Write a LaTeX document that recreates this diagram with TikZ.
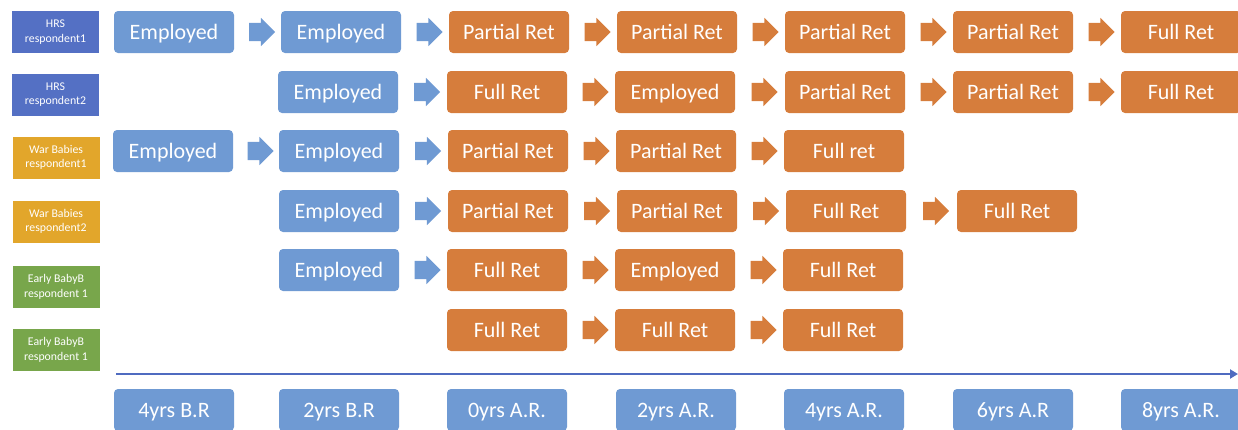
\documentclass[tikz,border=0pt]{standalone}
\usepackage{fontspec}
\setmainfont{Carlito}
\usetikzlibrary{shapes.arrows,calc,arrows.meta}
\definecolor{stepblue}{HTML}{6F9AD3}
\definecolor{steporange}{HTML}{D67D3C}
\definecolor{hrsblue}{HTML}{5470C4}
\definecolor{wargold}{HTML}{E2A62B}
\definecolor{boomgreen}{HTML}{78A64B}
\definecolor{axisblue}{HTML}{4F6BC0}

\begin{document}
\begin{tikzpicture}[x=1pt,y=-1pt,
  stage/.style={rounded corners=4pt, minimum width=120pt, minimum height=42pt,
    inner sep=0pt, text=white, text height=19pt, text depth=4pt,
    font=\fontsize{22}{24}\selectfont},
  emp/.style={stage, fill=stepblue},
  ret/.style={stage, fill=steporange},
  cohort/.style={minimum width=87pt, minimum height=42pt, inner sep=0pt,
    text=white, align=center, font=\fontsize{11.8}{14.5}\selectfont},
  flowarrow/.style={single arrow, single arrow head extend=5pt,
    minimum height=26pt, inner sep=0pt, fill=#1, draw=none},
]
\useasboundingbox (0,0) rectangle (1238,429);
\clip (0,0) rectangle (1238,429);

% cohort labels
\node[cohort, fill=hrsblue]   (c1) at (55.5,32)    {HRS\\respondent1};
\node[cohort, fill=hrsblue]   (c2) at (55.5,94.5)  {HRS\\respondent2};
\node[cohort, fill=wargold]   (c3) at (56,157.5)   {War Babies\\respondent1};
\node[cohort, fill=wargold]   (c4) at (56,221.5)   {War Babies\\respondent2};
\node[cohort, fill=boomgreen] (c5) at (56,287)     {Early BabyB\\respondent 1};
\node[cohort, fill=boomgreen] (c6) at (56,350)     {Early BabyB\\respondent 1};

% row 1
\node[emp] (n-1-1) at (174,32)  {Employed};
\node[emp] (n-1-2) at (341,32)  {Employed};
\node[ret] (n-1-3) at (509,32)  {Partial Ret};
\node[ret] (n-1-4) at (677,32)  {Partial Ret};
\node[ret] (n-1-5) at (845,32)  {Partial Ret};
\node[ret] (n-1-6) at (1013,32) {Partial Ret};
\node[ret] (n-1-7) at (1181,32) {Full Ret};
% row 2
\node[emp] (n-2-2) at (338,92)  {Employed};
\node[ret] (n-2-3) at (507,92)  {Full Ret};
\node[ret] (n-2-4) at (675,92)  {Employed};
\node[ret] (n-2-5) at (845,92)  {Partial Ret};
\node[ret] (n-2-6) at (1013,92) {Partial Ret};
\node[ret] (n-2-7) at (1181,92) {Full Ret};
% row 3
\node[emp] (n-3-1) at (173,151) {Employed};
\node[emp] (n-3-2) at (339,151) {Employed};
\node[ret] (n-3-3) at (508,151) {Partial Ret};
\node[ret] (n-3-4) at (676,151) {Partial Ret};
\node[ret] (n-3-5) at (844,151) {Full ret};
% row 4
\node[emp] (n-4-2) at (339,211) {Employed};
\node[ret] (n-4-3) at (508,211) {Partial Ret};
\node[ret] (n-4-4) at (677,211) {Partial Ret};
\node[ret] (n-4-5) at (846,211) {Full Ret};
\node[ret] (n-4-6) at (1017,211) {Full Ret};
% row 5
\node[emp] (n-5-2) at (339,270) {Employed};
\node[ret] (n-5-3) at (507,270) {Full Ret};
\node[ret] (n-5-4) at (675,270) {Employed};
\node[ret] (n-5-5) at (843,270) {Full Ret};
% row 6
\node[ret] (n-6-3) at (507,330) {Full Ret};
\node[ret] (n-6-4) at (675,330) {Full Ret};
\node[ret] (n-6-5) at (843,330) {Full Ret};

% block arrows between consecutive stages, coloured after the stage they leave
\foreach \r/\first/\last in {1/1/7,2/2/7,3/1/5,4/2/6,5/2/5,6/3/5} {
  \pgfmathtruncatemacro\lastm{\last-1}
  \foreach \c in {\first,...,\lastm} {
    \pgfmathtruncatemacro\nx{\c+1}
    \ifnum\c<3 \def\acol{stepblue}\else\def\acol{steporange}\fi
    \node[flowarrow=\acol] (a-\r-\c) at ($(n-\r-\c.east)!0.5!(n-\r-\nx.west)$) {\rule{0pt}{18pt}};
  }
}

% time axis
\coordinate (axs) at (116,374);
\coordinate (axe) at (1238,374);
\draw[axisblue, line width=2.2pt, -{Triangle[length=8pt,width=9pt]}] (axs) -- (axe);

% time labels
\node[emp] (t1) at (174,410)  {4yrs B.R};
\node[emp] (t2) at (339,410)  {2yrs B.R};
\node[emp] (t3) at (507,410)  {0yrs A.R.};
\node[emp] (t4) at (676,410)  {2yrs A.R.};
\node[emp] (t5) at (844,410)  {4yrs A.R.};
\node[emp] (t6) at (1013,410) {6yrs A.R};
\node[emp] (t7) at (1181,410) {8yrs A.R.};
\end{tikzpicture}
\end{document}
